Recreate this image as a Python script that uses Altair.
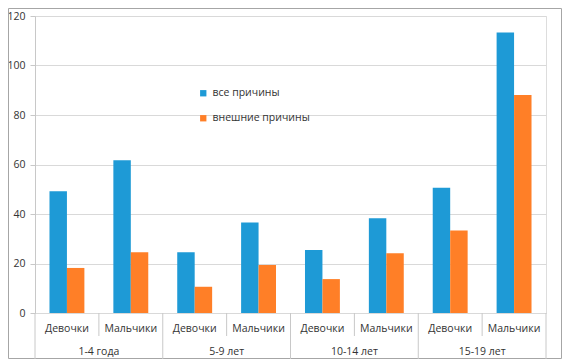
import altair as alt
import pandas as pd

groups = ["1-4 года", "5-9 лет", "10-14 лет", "15-19 лет"]
sexes = ["Девочки", "Мальчики"]
series = ["все причины", "внешние причины"]
all_causes = [49.2, 61.7, 24.5, 36.6, 25.5, 38.3, 50.6, 113.3]
external = [18.2, 24.5, 10.6, 19.4, 13.7, 24.1, 33.3, 88.1]
colors = ["#1E9AD6", "#FF7F27"]
y_ticks = [0, 20, 40, 60, 80, 100, 120]

cats = []
cat_rows = []
for g in groups:
    for s in sexes:
        key = f"{g} / {s}"
        cats.append(key)
        cat_rows.append({"cat": key, "group": g, "sex": s})
cat_df = pd.DataFrame(cat_rows)

bar_rows = []
for i, key in enumerate(cats):
    bar_rows.append({"cat": key, "series": series[0], "value": all_causes[i]})
    bar_rows.append({"cat": key, "series": series[1], "value": external[i]})
bars_df = pd.DataFrame(bar_rows)

W, H = 511, 297
FONT = "Open Sans"
TXT = "#333333"
LINE = "#C8C8C8"
xscale = alt.Scale(domain=cats, paddingInner=0, paddingOuter=0)


def xcat(band=None):
    if band is None:
        return alt.X("cat:N", sort=cats, scale=xscale, axis=None)
    return alt.X("cat:N", sort=cats, scale=xscale, axis=None, bandPosition=band)


bars = alt.Chart(bars_df).mark_bar().encode(
    x=xcat(),
    xOffset=alt.XOffset("series:N", sort=series,
                        scale=alt.Scale(domain=series, paddingInner=0, paddingOuter=0.83)),
    y=alt.Y("value:Q", scale=alt.Scale(domain=[0, 120], nice=False),
            axis=alt.Axis(values=y_ticks, title=None, grid=True, gridColor="#D9D9D9",
                          domainColor=LINE, tickColor=LINE, tickSize=5, labelPadding=5,
                          labelFontSize=10.5, labelColor=TXT, labelFont=FONT)),
    color=alt.Color("series:N", sort=series,
                    scale=alt.Scale(domain=series, range=colors),
                    legend=alt.Legend(title=None, orient="none", legendX=163, legendY=72,
                                      symbolType="square", symbolSize=40, labelFontSize=10.5,
                                      labelFont=FONT, labelColor=TXT, rowPadding=14,
                                      symbolStrokeWidth=0, labelOffset=4)),
)

sub_labels = alt.Chart(cat_df).mark_text(fontSize=10.5, font=FONT, color=TXT, baseline="middle").encode(
    x=xcat(), y=alt.value(H + 16), text="sex:N"
)

boys = cat_df[cat_df["sex"] == sexes[1]]
girls = cat_df[cat_df["sex"] == sexes[0]]

group_labels = alt.Chart(boys).mark_text(fontSize=10.5, font=FONT, color=TXT, baseline="middle").encode(
    x=xcat(0), y=alt.value(H + 39), text="group:N"
)

inner_sep = alt.Chart(boys).mark_rule(color=LINE, strokeWidth=1).encode(
    x=xcat(0), y=alt.value(H), y2=alt.value(H + 23)
)

outer_sep = alt.Chart(girls).mark_rule(color=LINE, strokeWidth=1).encode(
    x=xcat(0), y=alt.value(H), y2=alt.value(H + 60)
)

end_sep = alt.Chart(cat_df.tail(1)).mark_rule(color=LINE, strokeWidth=1).encode(
    x=xcat(1), y=alt.value(H), y2=alt.value(H + 60)
)

frame = alt.Chart(pd.DataFrame({"a": [0]})).mark_rect(filled=False, stroke="#A6A6A6", strokeWidth=1).encode(
    x=alt.value(-26.5), x2=alt.value(W + 15.5), y=alt.value(-7.5), y2=alt.value(H + 45.5)
)

chart = alt.layer(frame, bars, inner_sep, outer_sep, end_sep, sub_labels, group_labels).properties(
    width=W, height=H,
    autosize=alt.AutoSizeParams(type="none"),
    padding={"left": 27, "top": 8, "right": 16, "bottom": 46},
).configure_view(stroke=None).configure(background="white")

chart.save("out.html", embed_options={"renderer": "svg", "actions": False})
